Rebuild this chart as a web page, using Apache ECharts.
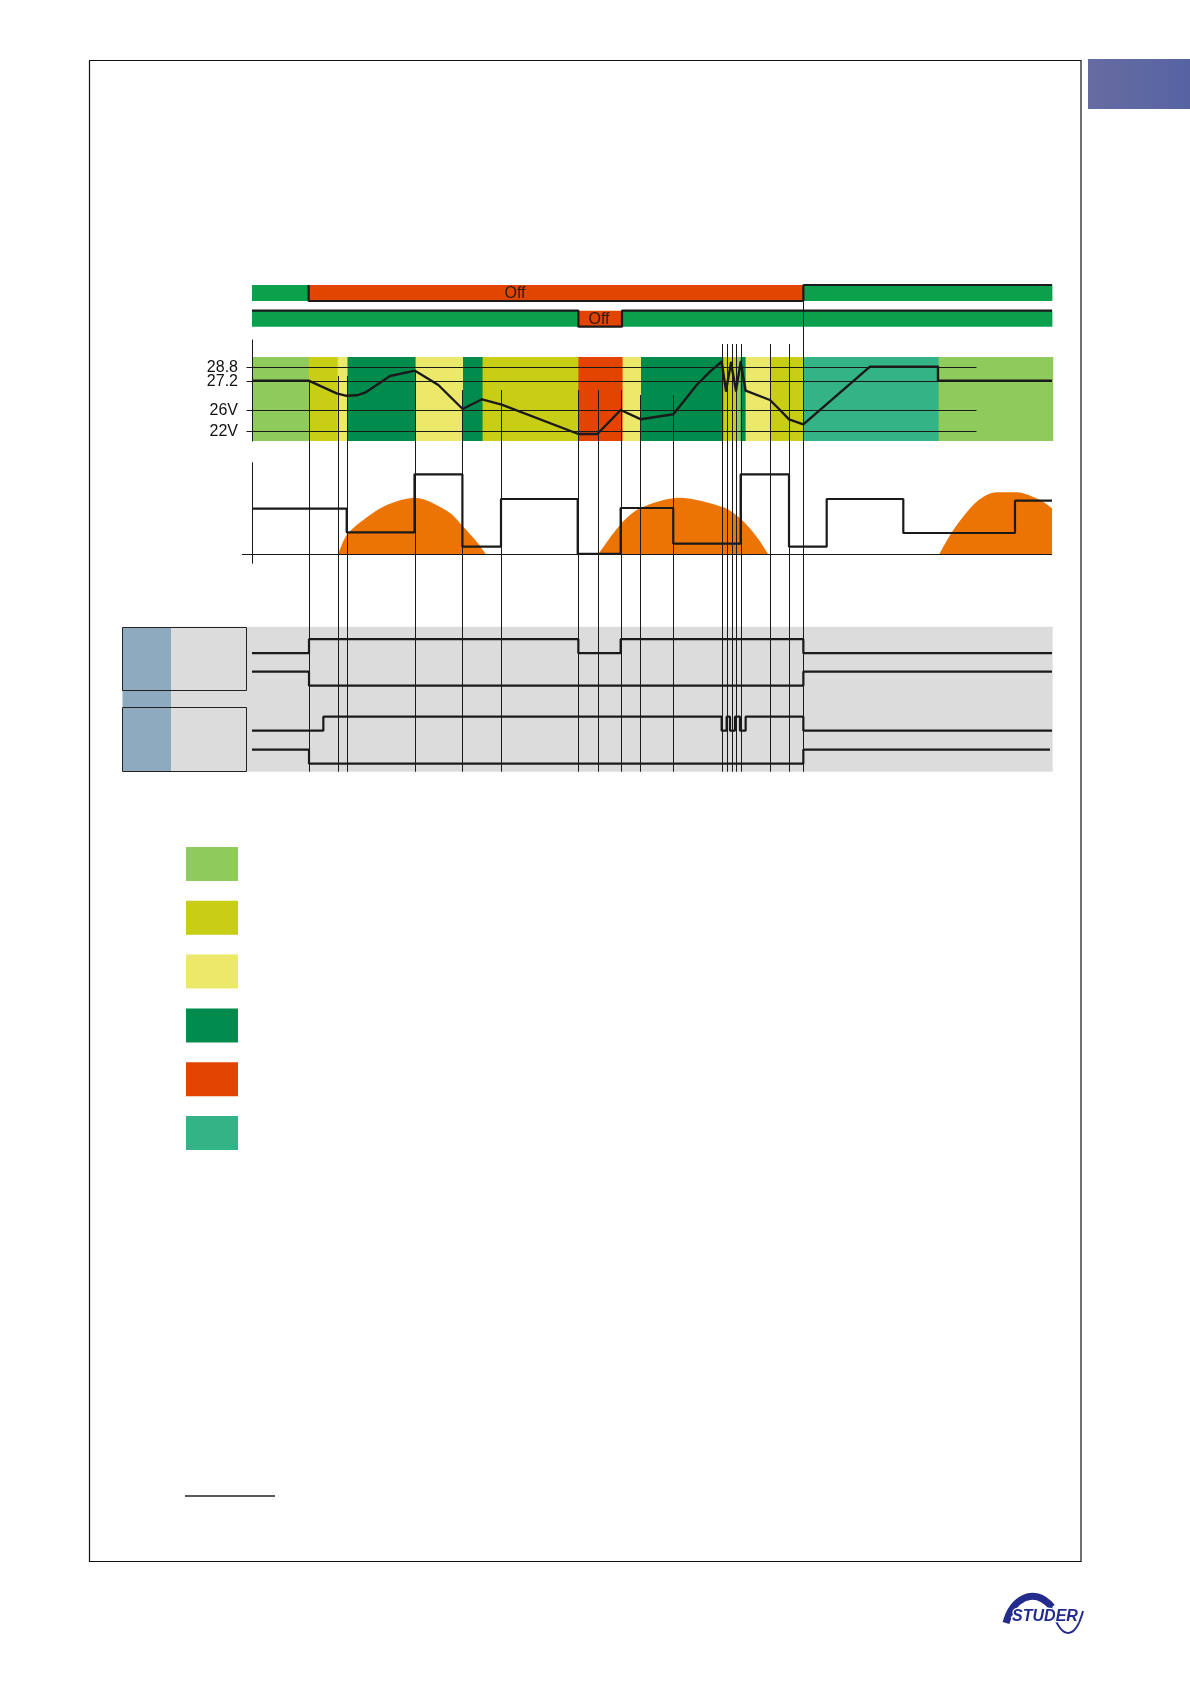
<!DOCTYPE html>
<html><head><meta charset="utf-8">
<script src="https://cdn.jsdelivr.net/npm/echarts@6/dist/echarts.min.js"></script>
<style>html,body{margin:0;padding:0;background:#fff}#c{width:1190px;height:1684px}</style>
</head><body><div id="c"></div>
<script>
// ================= DATA (time axis in schematic units 0..160) =================
const T_END = 160;

// Top status bars: segment start times and state (1 = on/green, 0 = Off/red)
const bar1Start = [0, 11.33, 110.27];
const bar1State = [1, 0, 1];
const bar2Start = [0, 65.27, 74];
const bar2State = [1, 0, 1];
const offLabel = 'Off';
const offLabelAt = [52.6, 69.4];
const barOutlineFrom = [11.33, 0];

// Battery state band (colour states)
const stateNames = ['Phase 1', 'Phase 2', 'Phase 3', 'Phase 4', 'Phase 5', 'Phase 6'];
const bandStart = [0, 11.33, 17.13, 19.1, 32.6, 42.2, 46, 65.27, 74, 77.8, 94.13, 96.8, 97.73, 98.6, 103.46, 110.2, 137.2];
const bandState = [0, 1, 2, 3, 2, 3, 1, 4, 2, 3, 1, 0, 3, 2, 1, 5, 0];

// Battery voltage (schematic level units)
const voltTickLabels = ['28.8', '27.2', '26V', '22V'];
const voltTickLevels = [74.3, 60.3, 30.7, 9.7];
const voltRefEnd = 144.9;
const voltT = [0, 11.33, 16.93, 18.73, 20.93, 22.6, 24.93, 27.6, 32.6, 37.27, 42.13, 46, 49.93, 65.27, 69.07, 73.73, 77.8, 84.27,
  86.27, 88.93, 91.6, 93.93, 94.8, 95.8, 96.8, 97.73, 98.73, 103.6, 105.6, 107.4, 110.27, 123.6, 137.2, 137.2, 160];
const voltL = [60.3, 60.3, 47.7, 45.3, 45.7, 48.3, 56, 65, 70.3, 56, 32, 41.7, 36.3, 7, 7, 31, 21.7, 26.7,
  39.3, 56, 69.3, 79.3, 50.3, 78.3, 50.3, 79, 50.3, 41, 31, 21.7, 16.7, 74.3, 74.3, 60.3, 60.3];

// Event markers (time, top level)
const eventT = [11.35, 17.13, 19.08, 32.5, 42.08, 49.88, 65.25, 69.1, 73.73, 77.68, 84.25, 94.07, 95, 95.93, 96.87, 97.73, 103.6, 107.4, 110.27];
const eventTop = [60.3, 65, 65, 70.3, 51, 51, 51, 51, 51, 46, 46, 97, 97, 97, 97, 97, 97, 97, 156];

// Power: consumer load (piecewise constant) and solar production
const loadT = [0, 18.94, 32.5, 42.08, 49.8, 65.14, 73.73, 84.25, 97.73, 107.4, 114.94, 130.26, 152.6];
const loadP = [45.6, 22, 80, 7.6, 55.3, 0.5, 46.3, 10.6, 80, 7.6, 55.3, 21.3, 53.6];
const sun1T = [17.26, 18.94, 22.26, 26.94, 32.6, 39.26, 42.26, 44.94, 46.8];
const sun1P = [0, 19.3, 34.3, 49.3, 56.6, 42.6, 27.6, 12.6, 0];
const sun2T = [69.27, 73.73, 77.6, 85.47, 94.27, 97.6, 100.93, 103.27];
const sun2P = [0, 30, 46, 56.6, 47, 36, 17.6, 0];
const sun3T = [137.47, 140.27, 144.93, 148.93, 152.93, 157.6, 160];
const sun3P = [0, 24.3, 52.6, 62, 62, 54.3, 46];

// Relay contacts (state 1 = high, 0 = low)
const sigA_T = [0, 11.4, 65.27, 73.73, 110.27];
const sigA_S = [0, 1, 0, 1, 0];
const sigB_T = [0, 11.4, 110.27];
const sigB_S = [1, 0, 1];
const sigC_T = [0, 14.27, 93.93, 94.93, 95.6, 96.6, 97.6, 98.73, 110.27];
const sigC_S = [0, 1, 0, 1, 0, 1, 0, 1, 0];
const sigD_T = [0, 11.4, 110.27];
const sigD_S = [1, 0, 1];
const sigEnd = [160, 160, 160, 159.6];

// ================= LAYOUT / STYLE =================
const GL = 252, GW = 800;
const EVENT_BOTTOM = 771.7;
const BAND_TOP_LEVEL = 84;
const BAR_ROW_V = [39, 13.3], BAR_HALF = 8;
const IO_BASE = [118.5, 86, 41, 8], IO_AMP = 14;
const stateColors = ['#8fcb5c', '#c8cd16', '#ece96a', '#018c4e', '#e34402', '#34b486'];
const BAR_ON = '#0aa04c', BAR_OFF = '#e24402';
const INK = '#1a1a1a';
const FONT = '"Liberation Sans", Arial, sans-serif';

function segs(starts, states, end) {
  return starts.map((s, i) => [s, i < starts.length - 1 ? starts[i + 1] : end, states[i]]);
}
function stepData(starts, states, end, base, amp) {
  const d = starts.map((s, i) => [s, base + states[i] * amp]);
  d.push([end, base + states[states.length - 1] * amp]);
  return d;
}
function outline(starts, states, from, row) {
  const c = BAR_ROW_V[row];
  const lv = s => s ? c + BAR_HALF : c - BAR_HALF;
  const pts = [];
  starts.forEach((s, i) => {
    if (s < from) return;
    if (s === from && i > 0) pts.push([s, lv(states[i - 1])]);
    pts.push([s, lv(states[i])]);
  });
  pts.push([T_END, lv(states[states.length - 1])]);
  return pts;
}
const zip = (a, b) => a.map((v, i) => [v, b[i]]);

const chart = echarts.init(document.getElementById('c'));

const grids = [
  {left: GL, width: GW, top: 280, height: 52},
  {left: GL, width: GW, top: 340, height: 101},
  {left: GL, width: GW, top: 462.7, height: 100.6},
  {left: GL, width: GW, top: 626.7, height: 145}
];
const xAxes = grids.map((g, i) => ({type: 'value', gridIndex: i, min: 0, max: T_END, show: false}));
const yAxes = [
  {type: 'value', gridIndex: 0, min: 0, max: 52, show: false},
  {type: 'value', gridIndex: 1, min: 0, max: 101, z: 10,
    axisLine: {show: true, lineStyle: {color: INK, width: 1}}, axisTick: {show: false}, axisLabel: {show: false}, splitLine: {show: false}},
  {type: 'value', gridIndex: 2, min: -9, max: 91.6, z: 10,
    axisLine: {show: true, lineStyle: {color: INK, width: 1}}, axisTick: {show: false}, axisLabel: {show: false}, splitLine: {show: false}},
  {type: 'value', gridIndex: 3, min: 0, max: 145, show: false}
];

const series = [];

// Top bars
const barData = [];
segs(bar1Start, bar1State, T_END).forEach(s => barData.push([s[0], s[1], 0, s[2]]));
segs(bar2Start, bar2State, T_END).forEach(s => barData.push([s[0], s[1], 1, s[2]]));
series.push({
  type: 'custom', name: 'bars', xAxisIndex: 0, yAxisIndex: 0, z: 2, silent: true,
  data: barData,
  renderItem: (params, api) => {
    const t0 = api.value(0), t1 = api.value(1), row = api.value(2), st = api.value(3);
    const c = BAR_ROW_V[row];
    const a = api.coord([t0, c + BAR_HALF]), b = api.coord([t1, c - BAR_HALF]);
    const children = [{type: 'rect', shape: {x: a[0], y: a[1], width: b[0] - a[0] + 0.4, height: b[1] - a[1]},
      style: {fill: st ? BAR_ON : BAR_OFF}}];
    if (!st) {
      const p = api.coord([offLabelAt[row], c]);
      children.push({type: 'text', z2: 5, style: {text: offLabel, x: p[0], y: p[1] + 1, font: '16px ' + FONT, fill: '#2a1c14',
        align: 'center', verticalAlign: 'middle', textAlign: 'center', textVerticalAlign: 'middle'}});
    }
    return {type: 'group', children};
  }
});
[[bar1Start, bar1State], [bar2Start, bar2State]].forEach((b, r) => {
  series.push({type: 'line', xAxisIndex: 0, yAxisIndex: 0, z: 5, silent: true, step: 'end', symbol: 'none',
    data: outline(b[0], b[1], barOutlineFrom[r], r), lineStyle: {color: INK, width: 2.2}});
});

// Voltage bands per state (legend entries)
const bands = segs(bandStart, bandState, T_END + 0.13);
stateNames.forEach((n, si) => {
  series.push({
    type: 'custom', name: n, xAxisIndex: 1, yAxisIndex: 1, z: 1, silent: true,
    itemStyle: {color: stateColors[si]},
    data: bands.filter(b => b[2] === si),
    renderItem: (params, api) => {
      const a = api.coord([api.value(0), BAND_TOP_LEVEL]), b = api.coord([api.value(1), 0]);
      return {type: 'rect', shape: {x: a[0], y: a[1], width: b[0] - a[0] + 0.6, height: b[1] - a[1]},
        style: {fill: stateColors[api.value(2)]}};
    }
  });
});

// Voltage reference lines + labels
series.push({
  type: 'custom', name: 'vref', xAxisIndex: 1, yAxisIndex: 1, z: 3, clip: false, silent: true,
  data: voltTickLevels.map(l => [0, l]),
  renderItem: (params, api) => {
    const a = api.coord([0, api.value(1)]), b = api.coord([voltRefEnd, api.value(1)]);
    const y = Math.round(a[1]) + 0.5;
    return {type: 'group', children: [
      {type: 'line', shape: {x1: a[0] - 5.5, y1: y, x2: b[0], y2: y}, style: {stroke: INK, lineWidth: 1}},
      {type: 'text', style: {text: voltTickLabels[params.dataIndex], x: a[0] - 14, y: a[1] + 0.5, font: '16px ' + FONT, fill: '#111',
        align: 'right', verticalAlign: 'middle', textAlign: 'right', textVerticalAlign: 'middle'}}
    ]};
  }
});

// Event lines
series.push({
  type: 'custom', name: 'events', xAxisIndex: 1, yAxisIndex: 1, z: 4, clip: false, silent: true,
  data: zip(eventT, eventTop),
  renderItem: (params, api) => {
    const p = api.coord([api.value(0), api.value(1)]);
    const x = Math.round(p[0]) + 0.5;
    return {type: 'line', shape: {x1: x, y1: p[1], x2: x, y2: EVENT_BOTTOM}, style: {stroke: INK, lineWidth: 1}};
  }
});

// Voltage curve
series.push({type: 'line', name: 'voltage', xAxisIndex: 1, yAxisIndex: 1, z: 6, silent: true, symbol: 'none',
  data: zip(voltT, voltL), lineStyle: {color: INK, width: 2.4, join: 'round'}});

// Solar production
[[sun1T, sun1P], [sun2T, sun2P], [sun3T, sun3P]].forEach(s => {
  series.push({type: 'line', xAxisIndex: 2, yAxisIndex: 2, z: 1, silent: true, symbol: 'none', smooth: 0.3,
    data: zip(s[0], s[1]), lineStyle: {width: 0}, areaStyle: {color: '#ec7404', opacity: 1}});
});

// Power baseline
series.push({
  type: 'custom', name: 'baseline', xAxisIndex: 2, yAxisIndex: 2, z: 3, clip: false, silent: true,
  data: [[0, 0]],
  renderItem: (params, api) => {
    const a = api.coord([-2, 0]), b = api.coord([T_END, 0]);
    const y = Math.round(a[1]) + 0.5;
    return {type: 'line', shape: {x1: a[0], y1: y, x2: b[0], y2: y}, style: {stroke: INK, lineWidth: 1}};
  }
});

// Load step line
const loadData = zip(loadT, loadP);
loadData.push([T_END, loadP[loadP.length - 1]]);
series.push({type: 'line', name: 'load', xAxisIndex: 2, yAxisIndex: 2, z: 6, silent: true, symbol: 'none', step: 'end',
  data: loadData, lineStyle: {color: INK, width: 2.2}});

// Relay signals
[[sigA_T, sigA_S], [sigB_T, sigB_S], [sigC_T, sigC_S], [sigD_T, sigD_S]].forEach((s, i) => {
  series.push({type: 'line', xAxisIndex: 3, yAxisIndex: 3, z: 6, silent: true, symbol: 'none', step: 'end',
    data: stepData(s[0], s[1], sigEnd[i], IO_BASE[i], IO_AMP), lineStyle: {color: INK, width: 2.2}});
});

const graphic = [
  // page frame
  {type: 'rect', silent: true, z: 0, shape: {x: 89.5, y: 60.5, width: 991.5, height: 1501},
    style: {fill: 'none', stroke: '#111', lineWidth: 1.2}},
  // chapter tab
  {type: 'rect', silent: true, z: 0, shape: {x: 1088, y: 59, width: 102, height: 50},
    style: {fill: new echarts.graphic.LinearGradient(0, 0, 1, 0, [{offset: 0, color: '#676ca0'}, {offset: 1, color: '#5663a3'}])}},
  // relay panel
  {type: 'rect', silent: true, z: 0, shape: {x: 171, y: 626.7, width: 881.7, height: 145}, style: {fill: '#dcdcdc'}},
  {type: 'rect', silent: true, z: 0, shape: {x: 122.5, y: 627, width: 48.5, height: 144.7}, style: {fill: '#8eaabf'}},
  {type: 'rect', silent: true, z: 1, shape: {x: 122.5, y: 627.5, width: 124, height: 63}, style: {fill: 'none', stroke: '#222', lineWidth: 1}},
  {type: 'rect', silent: true, z: 1, shape: {x: 122.5, y: 707.5, width: 124, height: 64}, style: {fill: 'none', stroke: '#222', lineWidth: 1}},
  // footnote rule
  {type: 'line', silent: true, shape: {x1: 185, y1: 1496, x2: 275, y2: 1496}, style: {stroke: '#222', lineWidth: 1.3}},
  // logo
  {type: 'bezierCurve', silent: true, shape: {x1: 1006, y1: 1623, cpx1: 1012, cpy1: 1600, cpx2: 1033, cpy2: 1585, x2: 1052, y2: 1607},
    style: {fill: 'none', stroke: '#232c8c', lineWidth: 7}},
  {type: 'bezierCurve', silent: true, shape: {x1: 1051, y1: 1606, cpx1: 1060, cpy1: 1641, cpx2: 1075, cpy2: 1641, x2: 1083, y2: 1611},
    style: {fill: 'none', stroke: '#232c8c', lineWidth: 2}},
  {type: 'text', silent: true, z: 2, x: 1045, y: 1617,
    style: {text: 'STUDER', font: 'italic bold 16px ' + FONT, fill: '#232c8c', stroke: '#fff', lineWidth: 2.5,
      align: 'center', verticalAlign: 'middle', textAlign: 'center', textVerticalAlign: 'middle'}}
];

chart.setOption({
  animation: false,
  backgroundColor: '#fff',
  grid: grids,
  xAxis: xAxes,
  yAxis: yAxes,
  legend: {
    orient: 'vertical', left: 186, top: 847, padding: 0, itemWidth: 52, itemHeight: 34, itemGap: 19.8,
    icon: 'rect', selectedMode: false, formatter: () => '',
    data: stateNames.map((n, i) => ({name: n, itemStyle: {color: stateColors[i]}}))
  },
  graphic: graphic,
  series: series
});
</script>
</body></html>
